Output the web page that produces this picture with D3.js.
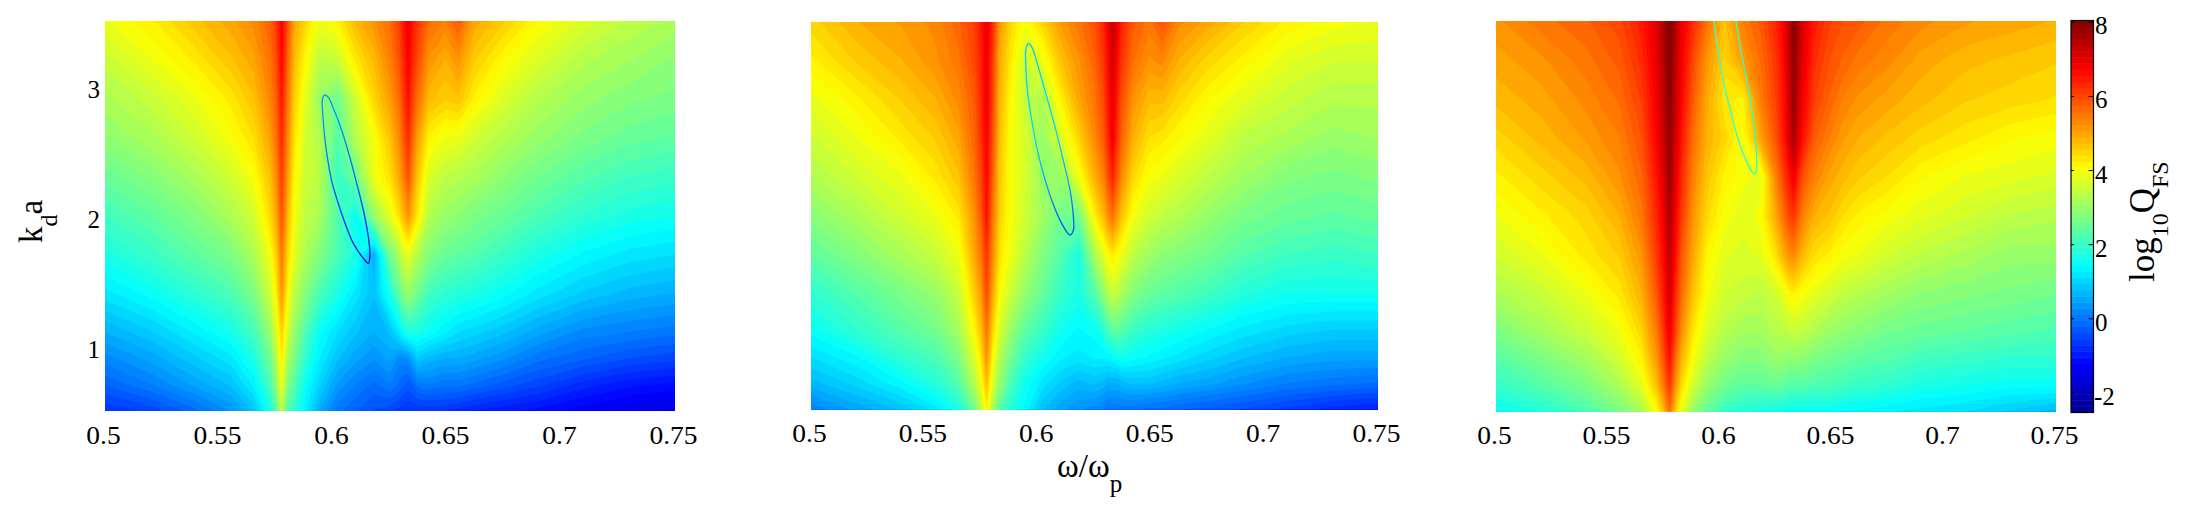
<!DOCTYPE html>
<html lang="en">
<head>
<meta charset="UTF-8">
<title>log10 QFS maps</title>
<style>
    html, body { margin: 0; background: #fff; }
    svg { display: block; }
    text { font-family: "Liberation Serif", serif; fill: #000; }
    .tick text { font-size: 25px; }
</style>
</head>
<body>
<svg width="2200" height="525"></svg>
<script src="https://d3js.org/d3.v7.min.js"></script>
<script>
// grid positions, not evenly spaced so the two ridges get more columns
const freqs = [0.5, 0.52, 0.54, 0.555, 0.565, 0.572, 0.5748, 0.5775, 0.5802, 0.583, 0.588, 0.594, 0.602, 0.61, 0.618, 0.625, 0.629, 0.6308, 0.633, 0.6352, 0.637, 0.642, 0.649, 0.655, 0.662, 0.675, 0.69, 0.71, 0.73, 0.75];
const kValues = [3.5, 3.2, 2.9, 2.6, 2.3, 2.0, 1.7, 1.4, 1.1, 0.9, 0.7, 0.5];

// log10 Q, one row per kValues entry
const panelA = [
    [3.9,4.2,4.7,5.0,5.3,5.7,6.1,6.8,5.9,5.0,4.5,3.9,4.2,4.8,5.2,5.6,6.1,6.5,6.9,6.5,6.2,5.6,5.4,5.8,5.0,4.6,4.1,3.7,3.4,3.2],
    [3.5,3.9,4.3,4.7,5.0,5.5,5.9,6.7,5.7,4.8,4.1,3.4,3.5,4.3,4.8,5.4,5.9,6.3,6.8,6.3,6.0,5.2,4.9,5.2,4.6,4.1,3.7,3.3,3.1,2.9],
    [3.2,3.5,3.9,4.3,4.7,5.3,5.7,6.5,5.5,4.6,3.8,3.0,2.6,3.6,4.5,5.1,5.6,6.1,6.6,6.0,5.6,4.8,4.6,4.7,4.2,3.7,3.3,3.0,2.8,2.7],
    [2.9,3.2,3.6,4.0,4.4,5.0,5.5,6.3,5.3,4.4,3.6,3.3,2.3,3.3,4.0,4.7,5.3,5.8,6.3,5.6,5.1,4.2,3.9,3.9,3.6,3.3,3.0,2.7,2.5,2.4],
    [2.5,2.8,3.2,3.6,4.0,4.7,5.2,6.1,5.1,4.2,3.5,3.4,2.0,2.6,3.9,4.4,5.0,5.4,5.9,5.2,4.7,3.7,3.4,3.3,3.2,2.9,2.6,2.3,2.1,2.0],
    [2.1,2.4,2.8,3.2,3.6,4.4,4.9,5.9,4.8,4.0,3.4,3.2,2.3,1.5,3.0,3.8,4.4,4.8,5.2,4.7,4.3,3.3,3.0,2.9,2.7,2.5,2.2,1.9,1.7,1.6],
    [1.7,2.0,2.4,2.7,3.2,3.9,4.5,5.5,4.5,3.8,3.2,2.8,2.2,1.7,0.6,2.6,3.2,3.6,3.8,3.5,3.3,2.8,2.5,2.4,2.3,2.0,1.7,1.4,1.2,1.1],
    [1.2,1.5,1.9,2.2,2.7,3.5,4.1,5.2,4.1,3.4,2.8,2.2,1.7,1.2,0.8,1.7,2.4,2.8,3.0,2.8,2.6,2.1,1.9,1.8,1.7,1.5,1.2,0.9,0.7,0.6],
    [0.6,0.9,1.3,1.6,2.1,2.9,3.6,4.6,3.6,3.0,2.2,1.5,1.1,0.8,0.6,0.8,1.2,1.5,1.7,1.7,1.7,1.5,1.3,1.1,1.0,0.8,0.5,0.2,0.1,0.0],
    [0.2,0.5,0.9,1.2,1.7,2.5,3.2,4.3,3.2,2.7,1.9,1.3,0.8,0.5,0.3,0.5,0.2,0.2,0.3,0.6,0.9,0.7,0.6,0.6,0.5,0.3,0.0,-0.2,-0.4,-0.5],
    [-0.2,0.1,0.5,0.8,1.3,2.1,2.8,3.9,2.8,2.3,1.5,1.0,0.4,0.1,-0.1,0.1,-0.1,-0.2,-0.3,-0.2,0.0,0.1,0.0,0.0,-0.1,-0.3,-0.5,-0.8,-1.0,-1.1],
    [-0.7,-0.5,-0.1,0.3,0.8,1.6,2.3,3.4,2.3,1.9,1.3,0.6,0.0,-0.2,-0.4,-0.5,-0.6,-0.7,-0.7,-0.7,-0.7,-0.7,-0.7,-0.8,-0.9,-1.0,-1.1,-1.3,-1.5,-1.6]
];
const panelB = [
    [4.5,4.9,5.1,5.3,5.7,6.1,6.5,7.0,6.3,5.2,4.5,4.0,4.5,5.1,5.5,5.9,6.4,6.8,7.4,6.9,6.4,5.8,5.5,5.9,5.3,5.0,4.6,4.2,4.0,3.9],
    [4.2,4.6,4.9,5.2,5.5,6.0,6.4,6.9,6.1,5.0,4.3,3.6,3.9,4.7,5.2,5.7,6.2,6.6,7.2,6.6,6.2,5.6,5.2,5.3,4.9,4.5,4.2,3.8,3.6,3.6],
    [3.85,4.2,4.6,4.9,5.3,5.8,6.3,6.9,6.0,4.9,4.1,3.5,3.2,4.2,5.0,5.5,6.0,6.5,7.0,6.4,5.9,5.2,4.8,4.8,4.5,4.1,3.8,3.5,3.3,3.3],
    [3.55,3.9,4.3,4.6,5.0,5.7,6.2,6.8,5.9,4.8,4.0,3.7,3.0,3.7,4.5,5.3,5.8,6.3,6.9,6.2,5.7,4.9,4.4,4.3,4.1,3.8,3.4,3.2,3.0,3.1],
    [3.25,3.6,3.9,4.3,4.7,5.5,6.0,6.7,5.7,4.7,4.0,3.7,3.0,3.0,3.9,4.9,5.4,5.9,6.4,5.8,5.3,4.5,4.0,3.9,3.7,3.4,3.1,2.8,2.7,2.8],
    [2.85,3.2,3.6,3.9,4.3,5.2,5.8,6.6,5.5,4.6,4.0,3.6,3.1,2.6,2.6,4.2,4.8,5.2,5.6,5.1,4.7,4.0,3.6,3.4,3.3,3.0,2.7,2.5,2.4,2.5],
    [2.4,2.8,3.2,3.5,3.9,5.0,5.5,6.2,5.3,4.4,3.9,3.4,2.8,2.3,1.7,3.2,3.8,4.1,4.3,4.1,3.9,3.4,3.1,2.9,2.8,2.6,2.3,2.1,2.0,2.1],
    [1.9,2.3,2.7,3.0,3.5,4.6,5.1,6.0,5.0,4.1,3.5,3.0,2.5,2.0,1.7,2.3,2.9,3.3,3.5,3.4,3.2,2.8,2.5,2.4,2.3,2.1,1.8,1.6,1.6,1.6],
    [1.5,1.9,2.3,2.6,3.1,4.1,4.7,5.5,4.5,3.7,3.0,2.4,2.0,1.6,1.4,1.5,1.8,2.1,2.3,2.4,2.3,2.0,1.8,1.7,1.6,1.4,1.2,1.0,0.9,0.9],
    [1.1,1.4,1.9,2.2,2.7,3.7,4.3,5.2,4.1,3.3,2.6,2.0,1.6,1.3,1.2,1.3,1.3,1.3,1.4,1.5,1.6,1.5,1.4,1.3,1.2,1.0,0.8,0.6,0.5,0.5],
    [0.7,1.0,1.4,1.8,2.3,3.3,3.9,4.8,3.7,3.0,2.2,1.6,1.2,0.9,0.7,0.8,0.7,0.6,0.6,0.6,0.7,0.8,0.8,0.7,0.6,0.5,0.3,0.1,0.0,-0.1],
    [0.15,0.5,0.8,1.2,1.7,2.6,3.3,4.2,3.2,2.4,1.8,1.4,0.8,0.5,0.3,0.2,0.1,0.0,0.0,0.0,0.0,0.0,-0.1,-0.1,-0.2,-0.3,-0.4,-0.6,-0.8,-0.9]
];
const panelC = [
    [5.2,5.5,5.7,6.0,6.5,7.1,7.6,8.1,7.5,6.9,6.3,5.6,4.7,5.4,5.8,6.4,6.9,7.4,8.0,7.5,7.1,6.5,6.1,5.9,5.8,5.5,5.3,5.1,5.0,4.9],
    [5.0,5.2,5.5,5.8,6.3,7.0,7.5,8.1,7.4,6.8,6.0,5.2,4.5,5.1,5.6,6.2,6.8,7.3,7.9,7.4,7.0,6.3,5.9,5.7,5.5,5.3,5.0,4.8,4.7,4.6],
    [4.8,5.0,5.3,5.6,6.1,6.9,7.4,8.0,7.3,6.7,5.8,5.0,4.3,4.2,5.4,6.1,6.7,7.2,7.8,7.2,6.8,6.1,5.7,5.4,5.2,5.0,4.8,4.6,4.5,4.4],
    [4.5,4.8,5.1,5.4,5.9,6.8,7.3,7.9,7.2,6.5,5.6,4.9,4.5,4.0,5.0,5.9,6.6,7.1,7.7,7.0,6.6,5.8,5.4,5.1,4.9,4.7,4.5,4.3,4.1,4.0],
    [4.2,4.5,4.8,5.2,5.7,6.6,7.1,7.8,7.0,6.3,5.4,4.7,4.2,4.0,3.8,5.4,6.2,6.5,6.9,6.3,5.9,5.4,5.0,4.8,4.6,4.4,4.1,3.9,3.8,3.7],
    [3.9,4.2,4.5,4.9,5.5,6.4,6.9,7.6,6.8,6.1,5.2,4.5,4.0,3.8,4.0,5.0,5.7,6.0,6.2,5.7,5.4,4.9,4.7,4.4,4.2,4.0,3.8,3.6,3.4,3.3],
    [3.6,3.9,4.3,4.6,5.2,6.2,6.7,7.4,6.6,5.8,5.0,4.2,3.8,3.7,3.8,4.4,5.0,5.2,5.3,5.0,4.8,4.4,4.2,4.0,3.9,3.6,3.4,3.2,3.0,3.0],
    [3.2,3.5,3.9,4.3,4.9,5.9,6.5,7.2,6.3,5.6,4.7,4.0,3.6,3.5,3.4,3.6,3.9,4.1,4.2,4.1,4.0,3.8,3.6,3.4,3.3,3.1,2.9,2.8,2.7,2.6],
    [2.7,3.1,3.5,3.9,4.5,5.5,6.2,6.9,6.0,5.2,4.3,3.7,3.3,3.1,3.1,3.3,3.3,3.4,3.4,3.4,3.4,3.2,3.0,2.9,2.8,2.6,2.5,2.4,2.3,2.2],
    [2.3,2.7,3.1,3.6,4.2,5.2,5.9,6.6,5.6,4.8,4.0,3.4,3.0,2.8,2.8,3.0,3.0,2.9,2.9,2.9,2.9,2.7,2.6,2.5,2.4,2.3,2.1,2.0,1.9,1.9],
    [2.0,2.3,2.7,3.2,3.8,4.8,5.5,6.2,5.2,4.4,3.6,3.0,2.6,2.4,2.4,2.5,2.4,2.3,2.3,2.3,2.3,2.2,2.2,2.1,2.0,1.9,1.7,1.6,1.5,1.5],
    [1.5,1.8,2.2,2.7,3.2,4.1,4.8,5.6,4.6,3.8,3.0,2.5,2.0,1.8,1.7,1.6,1.6,1.5,1.5,1.5,1.5,1.5,1.5,1.4,1.4,1.3,1.2,1.1,0.9,0.7]
];

// the thin dip loop in each panel: frequency, k
const dipA = [
    [0.5962,2.93],[0.5953,2.887],[0.5955,2.79],[0.5962,2.636],[0.5977,2.431],[0.5997,2.25],[0.6023,2.098],[0.6053,1.944],[0.6089,1.79],[0.6133,1.675],
    [0.6155,1.636],[0.6162,1.70],[0.6155,1.84],[0.6133,2.046],[0.6104,2.25],[0.6075,2.444],[0.6038,2.66],[0.6001,2.83],[0.5979,2.913]
];
const dipB = [
    [0.5958,3.334],[0.5947,3.282],[0.5947,3.179],[0.5954,2.973],[0.5973,2.741],[0.5995,2.534],[0.6024,2.328],[0.6061,2.122],[0.6105,1.941],
    [0.6142,1.851],[0.6157,1.889],[0.6157,1.992],[0.6142,2.199],[0.6112,2.431],[0.6076,2.689],[0.6039,2.921],[0.6002,3.153],[0.5973,3.308]
];
const dipC = [
    [0.5973,3.5],[0.5985,3.34],[0.6,3.187],[0.6019,3.008],[0.6048,2.803],[0.6082,2.585],[0.6119,2.419],[0.6149,2.33],
    [0.6159,2.33],[0.6164,2.419],[0.6159,2.598],[0.6144,2.803],[0.6122,3.033],[0.6097,3.238],[0.6071,3.5]
];
// line colour of each loop as log10 Q, from its k at the top to its k at the bottom
const dipShadeA = [0.4, 0.2, -0.1, -0.8, -1.7];
const dipShadeB = [0.8, 1.0, 1.0, 0.4, -0.5];
const dipShadeC = [2.1, 2.0, 1.9, 1.8, 1.7];

const panels = [
    { grid: panelA, dip: dipA, shade: dipShadeA, closed: true, left: 105, right: 675, top: 21, bottom: 411, showK: true },
    { grid: panelB, dip: dipB, shade: dipShadeB, closed: true, left: 811, right: 1378, top: 22, bottom: 409.5, showK: false },
    { grid: panelC, dip: dipC, shade: dipShadeC, closed: false, left: 1496, right: 2056, top: 21, bottom: 411.5, showK: false }
];

const xTicks = [0.5, 0.55, 0.6, 0.65, 0.7, 0.75];
const kTicks = [1, 2, 3];
const barTicks = [-2, 0, 2, 4, 6, 8];

const qMin = -2.53, qMax = 8.05, nLevels = 64;

// Matlab jet, 64 steps
const jet = d3.scaleLinear()
    .domain([0, 0.125, 0.375, 0.625, 0.875, 1])
    .range(["#00008f", "#0000ff", "#00ffff", "#ffff00", "#ff0000", "#800000"])
    .clamp(true);
const level = d3.scaleLinear().domain([0, nLevels]).range([qMin, qMax]);
const thresholds = d3.range(nLevels).map(i => level(i));
const bandColor = i => jet((i + 0.5) / nLevels);
const qColor = v => jet((v - qMin) / (qMax - qMin));

const svg = d3.select("svg");
const defs = svg.append("defs");

panels.forEach((p, idx) => {
    const x = d3.scaleLinear().domain([0.5, 0.75]).range([p.left, p.right]);
    const y = d3.scaleLinear().domain([0.5, 3.5]).range([p.bottom, p.top]);

    // contour coordinates are in grid cells, data sits at i + 0.5
    const colPos = d3.scaleLinear().domain(freqs.map((_, i) => i + 0.5)).range(freqs).clamp(true);
    const rowPos = d3.scaleLinear().domain(kValues.map((_, i) => i + 0.5)).range(kValues).clamp(true);
    const path = d3.geoPath(d3.geoTransform({
        point(a, b) { this.stream.point(x(colPos(a)), y(rowPos(b))); }
    }));

    const contours = d3.contours()
        .size([freqs.length, kValues.length])
        .thresholds(thresholds)
        (p.grid.flat());

    const g = svg.append("g").attr("class", "panel" + idx);
    g.selectAll("path.band")
        .data(contours)
        .join("path")
        .attr("class", "band")
        .attr("d", path)
        .attr("fill", (d, i) => bandColor(i));

    // dip loop, shaded from top to bottom with a gradient
    const kExtent = d3.extent(p.dip, d => d[1]);
    const grad = defs.append("linearGradient")
        .attr("id", "dipShade" + idx)
        .attr("gradientUnits", "userSpaceOnUse")
        .attr("x1", 0).attr("x2", 0)
        .attr("y1", y(kExtent[1])).attr("y2", y(kExtent[0]));
    grad.selectAll("stop")
        .data(p.shade)
        .join("stop")
        .attr("offset", (d, i) => i / (p.shade.length - 1))
        .attr("stop-color", d => qColor(d));

    const loop = d3.line()
        .x(d => x(d[0]))
        .y(d => y(d[1]))
        .curve(p.closed ? d3.curveCatmullRomClosed : d3.curveCatmullRom);
    g.append("path")
        .attr("class", "dip")
        .attr("d", loop(p.dip))
        .attr("fill", "none")
        .attr("stroke", `url(#dipShade${idx})`)
        .attr("stroke-width", 1.3);

    const xAxis = d3.axisBottom(x)
        .tickValues(xTicks)
        .tickFormat(d3.format("~g"))
        .tickSize(0)
        .tickPadding(15);
    const ax = g.append("g").attr("transform", `translate(-2,${p.bottom})`).call(xAxis);
    ax.select(".domain").remove();
    // the original's labels run wider than Liberation Serif
    ax.selectAll(".tick text")
        .attr("lengthAdjust", "spacingAndGlyphs")
        .attr("textLength", function () { return this.getComputedTextLength() * 1.1; });

    if (p.showK) {
        const yAxis = d3.axisLeft(y).tickValues(kTicks).tickFormat(d3.format("d")).tickSize(0).tickPadding(5);
        const ay = g.append("g").attr("transform", `translate(${p.left},3.5)`).call(yAxis);
        ay.select(".domain").remove();
    }
});

// colorbar
const barLeft = 2071, barRight = 2093.5, barTop = 20.5, barBottom = 412.5;
const barY = d3.scaleLinear().domain([qMin, qMax]).range([barBottom, barTop]);
const bar = svg.append("g").attr("class", "colorbar");
bar.selectAll("rect")
    .data(d3.range(nLevels))
    .join("rect")
    .attr("x", barLeft)
    .attr("width", barRight - barLeft)
    .attr("y", i => barY(level(i + 1)))
    .attr("height", i => barY(level(i)) - barY(level(i + 1)) + 0.5)
    .attr("fill", i => bandColor(i));
bar.append("rect")
    .attr("x", barLeft).attr("y", barTop)
    .attr("width", barRight - barLeft).attr("height", barBottom - barTop)
    .attr("fill", "none").attr("stroke", "#000").attr("stroke-width", 1.2);
bar.selectAll("path.barTick")
    .data(barTicks)
    .join("path")
    .attr("class", "barTick")
    .attr("stroke", "#000")
    .attr("d", d => `M${barLeft},${barY(d)}h3M${barRight},${barY(d)}h-5`);
bar.selectAll("text")
    .data(barTicks)
    .join("text")
    .attr("x", d => d < 0 ? 2094 : 2095)
    .attr("y", d => barY(d) + 12)
    .attr("font-size", 25)
    .text(d => d);

// axis labels, sub- and superscript by hand
const kLabel = svg.append("text").attr("transform", "translate(42,243) rotate(-90)").attr("font-size", 33);
kLabel.append("tspan").text("k");
kLabel.append("tspan").attr("dy", 15).attr("font-size", 24).text("d");
kLabel.append("tspan").attr("dy", -15).text("a");

const wLabel = svg.append("text").attr("x", 1057).attr("y", 477).attr("font-size", 33);
wLabel.append("tspan").text("ω/ω");
wLabel.append("tspan").attr("dy", 15).attr("font-size", 25).text("p");

const qLabel = svg.append("text").attr("transform", "translate(2154,282) rotate(-90)").attr("font-size", 35);
qLabel.append("tspan").text("log");
qLabel.append("tspan").attr("dy", 14).attr("font-size", 24).text("10");
qLabel.append("tspan").attr("dy", -14).text("Q");
qLabel.append("tspan").attr("dy", 14).attr("font-size", 24).text("FS");
</script>
</body>
</html>
